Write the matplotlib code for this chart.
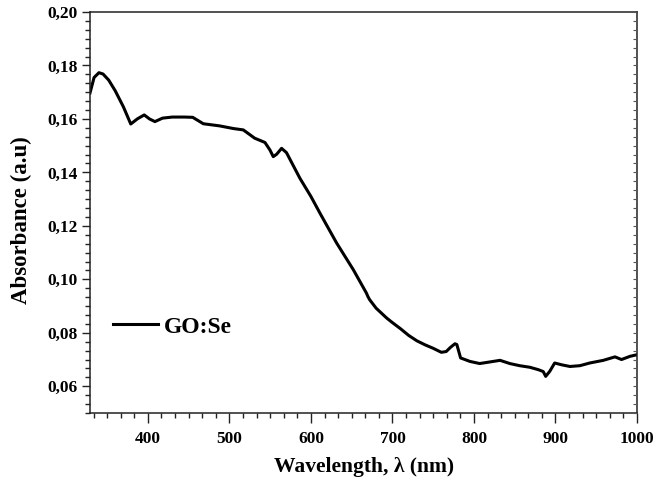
import matplotlib
matplotlib.use("Agg")
import matplotlib.pyplot as plt
from matplotlib.ticker import AutoMinorLocator, FixedLocator, FixedFormatter

wavelength = [329, 334, 340, 345, 352, 360, 370, 379, 387, 395.5, 402, 408.6, 418, 430,
              445, 455, 468, 488, 505, 517, 531, 543.6, 549.7, 553.8, 558, 564, 570,
              586.5, 600, 611, 631.5, 652, 668, 670, 672, 680, 693, 700, 710, 720,
              730, 740, 750, 760, 766, 771, 776.7, 779, 783.6, 795, 807, 819.6, 832,
              844, 856, 868.7, 879, 885, 888, 893, 899, 908, 917.8, 930, 942, 958.7,
              973, 981, 991.4, 1000]
absorbance = [0.1697, 0.1755, 0.1773, 0.1768, 0.1745, 0.1705, 0.1645, 0.1581, 0.1600,
              0.1615, 0.1600, 0.1590, 0.1603, 0.1607, 0.1607, 0.1606, 0.1582, 0.1574,
              0.1564, 0.1559, 0.1528, 0.1512, 0.1484, 0.1459, 0.1468, 0.1490, 0.1474,
              0.1378, 0.1310, 0.1248, 0.1136, 0.1036, 0.0949, 0.0935, 0.0924, 0.0892,
              0.0855, 0.0838, 0.0815, 0.0790, 0.0770, 0.0755, 0.0742, 0.0727, 0.0730,
              0.0745, 0.0759, 0.0756, 0.0706, 0.0693, 0.0685, 0.0691, 0.0697, 0.0685,
              0.0677, 0.0671, 0.0662, 0.0655, 0.0637, 0.0656, 0.0687, 0.0680, 0.0674,
              0.0677, 0.0687, 0.0697, 0.0710, 0.0700, 0.0712, 0.0718]

xtick_values = [400, 500, 600, 700, 800, 900, 1000]
xtick_labels = ["400", "500", "600", "700", "800", "900", "1000"]
ytick_values = [0.06, 0.08, 0.10, 0.12, 0.14, 0.16, 0.18, 0.20]
ytick_labels = ["0,06", "0,08", "0,10", "0,12", "0,14", "0,16", "0,18", "0,20"]
series_label = "GO:Se"
x_label = "Wavelength, \u03bb (nm)"
y_label = "Absorbance (a.u)"

plt.rcParams['font.family'] = ['Liberation Serif', 'DejaVu Serif']
plt.rcParams['font.weight'] = 'bold'

W, H = 655, 482
L, R, T, B = 90, 637, 12, 413
fig = plt.figure(figsize=(6.55, 4.82), dpi=100)
ax = fig.add_axes([L/W, 1-B/H, (R-L)/W, (B-T)/H])

ax.plot(wavelength, absorbance, color='black', lw=2.2, label=series_label,
        solid_joinstyle='round')

ax.set_xlim(329, 1000)
ax.set_ylim(0.05, 0.20)

ax.xaxis.set_major_locator(FixedLocator(xtick_values))
ax.xaxis.set_major_formatter(FixedFormatter(xtick_labels))
ax.yaxis.set_major_locator(FixedLocator(ytick_values))
ax.yaxis.set_major_formatter(FixedFormatter(ytick_labels))
ax.xaxis.set_minor_locator(AutoMinorLocator(6))
ax.yaxis.set_minor_locator(AutoMinorLocator(6))

ax.tick_params(axis='y', which='major', direction='out', length=6, width=1.0,
               labelsize=12.5, right=False, pad=3, color='#222222')
ax.tick_params(axis='x', which='major', direction='out', length=7, width=1.0,
               labelsize=12.5, top=False, pad=6, color='#222222')
ax.tick_params(which='minor', direction='out', length=3.5, width=1.0,
               top=False, right=False, color='#222222')
for lab in ax.get_xticklabels() + ax.get_yticklabels():
    lab.set_fontweight('bold')

for s in ax.spines.values():
    s.set_linewidth(1.1)
    s.set_color('#222222')

# right-side inward ticks
ax2 = ax.twinx()
ax2.set_ylim(0.05, 0.20)
ax2.yaxis.set_major_locator(FixedLocator(ytick_values))
ax2.yaxis.set_minor_locator(AutoMinorLocator(6))
ax2.tick_params(which='both', direction='in', length=3, width=0.8,
                labelright=False, color='#555555')
for s in ax2.spines.values():
    s.set_visible(False)

ax.set_xlabel(x_label, fontsize=15.5, fontweight='bold')
ax.xaxis.set_label_coords((364-L)/(R-L), (B-467)/(B-T), transform=ax.transAxes)
ax.xaxis.label.set_va('center')
ax.set_ylabel(y_label, fontsize=16.5, fontweight='bold')
ax.yaxis.set_label_coords((21-L)/(R-L), (B-220)/(B-T), transform=ax.transAxes)
ax.yaxis.label.set_va('center')

leg = ax.legend(loc='center left', bbox_to_anchor=((113-L)/(R-L), (B-327)/(B-T)),
                frameon=False, borderpad=0, borderaxespad=0,
                prop={'size': 17, 'weight': 'bold'}, handlelength=1.9,
                handletextpad=0.25)

fig.savefig("out.png", dpi=100)
